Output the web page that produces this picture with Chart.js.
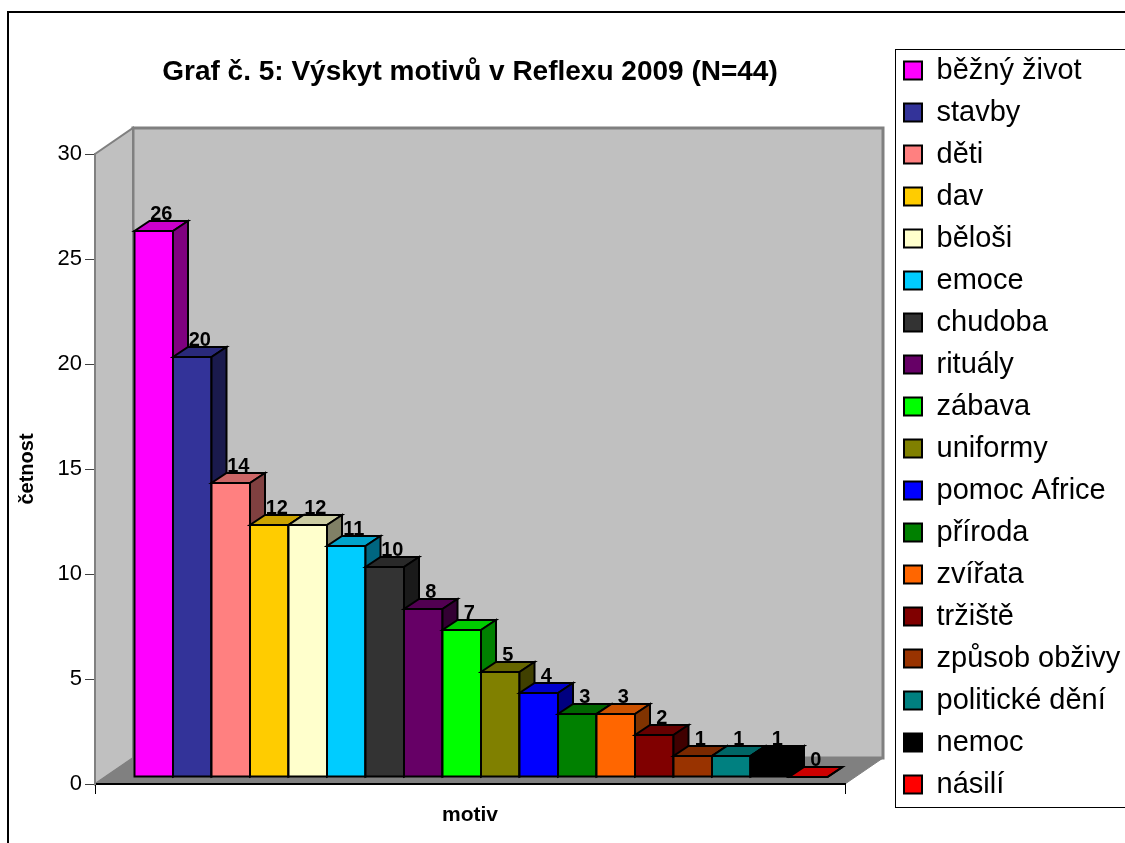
<!DOCTYPE html>
<html>
<head>
<meta charset="utf-8">
<script src="https://cdn.jsdelivr.net/npm/chart.js@4.4.1/dist/chart.umd.min.js"></script>
<style>html,body{margin:0;padding:0;background:#fff}</style>
</head>
<body>
<canvas id="graf" width="1125" height="843"></canvas>
<script>
// data
const motivy = ['běžný život', 'stavby', 'děti', 'dav', 'běloši', 'emoce', 'chudoba', 'rituály', 'zábava',
  'uniformy', 'pomoc Africe', 'příroda', 'zvířata', 'tržiště', 'způsob obživy', 'politické dění', 'nemoc', 'násilí'];
const cetnost = [26, 20, 14, 12, 12, 11, 10, 8, 7, 5, 4, 3, 3, 2, 1, 1, 1, 0];
const barvy = ['#FF00FF', '#333399', '#FF8080', '#FFCC00', '#FFFFCC', '#00CCFF', '#333333', '#660066', '#00FF00',
  '#808000', '#0000FF', '#008000', '#FF6600', '#800000', '#993300', '#008080', '#000000', '#FF0000'];
const osaY = [0, 5, 10, 15, 20, 25, 30];

const FONT = "Arial, 'Liberation Sans', sans-serif";

// ── 3D look (Excel style) ──
const DEPTH = { x: 38, y: -26 };   // floor / wall depth
const SHIFT = { x: 11, y: -7 };    // bar front plane
const BAR_D = { x: 15, y: -10 };   // bar depth

function shade(hex, f) {
  const n = parseInt(hex.slice(1), 16);
  const r = Math.round(((n >> 16) & 255) * f);
  const g = Math.round(((n >> 8) & 255) * f);
  const b = Math.round((n & 255) * f);
  return `rgb(${r},${g},${b})`;
}

function poly(ctx, pts, fill, stroke, lw) {
  ctx.beginPath();
  ctx.moveTo(pts[0][0], pts[0][1]);
  for (let i = 1; i < pts.length; i++) ctx.lineTo(pts[i][0], pts[i][1]);
  ctx.closePath();
  if (fill) { ctx.fillStyle = fill; ctx.fill(); }
  if (stroke) { ctx.strokeStyle = stroke; ctx.lineWidth = lw; ctx.stroke(); }
}

const plot3d = {
  id: 'plot3d',
  beforeDraw(chart) {
    const { ctx, chartArea: a, scales: { y } } = chart;
    const top = y.getPixelForValue(y.max), bot = y.getPixelForValue(0);
    const dx = DEPTH.x, dy = DEPTH.y;
    ctx.save();
    ctx.fillStyle = '#fff';
    ctx.fillRect(0, 0, chart.width, chart.height);
    ctx.strokeStyle = '#000';
    ctx.lineWidth = 2;
    ctx.strokeRect(8, 12, chart.width + 20, chart.height + 20);
    ctx.lineJoin = 'miter';
    // back wall
    poly(ctx, [[a.left + dx, top + dy], [a.right + dx, top + dy], [a.right + dx, bot + dy], [a.left + dx, bot + dy]], '#C0C0C0', '#808080', 3);
    // left wall
    poly(ctx, [[a.left, top], [a.left + dx, top + dy], [a.left + dx, bot + dy], [a.left, bot]], '#C0C0C0', '#808080', 2);
    // floor
    poly(ctx, [[a.left, bot], [a.right, bot], [a.right + dx, bot + dy], [a.left + dx, bot + dy]], '#808080', '#808080', 1);
    ctx.restore();
  },
  beforeDatasetDraw() {
    return false;
  },
  afterDatasetsDraw(chart) {
    const ctx = chart.ctx;
    const tops = [];
    ctx.save();
    ctx.lineJoin = 'miter';
    chart.data.datasets.forEach((ds, i) => {
      const meta = chart.getDatasetMeta(i);
      meta.data.forEach((el, j) => {
        const { x, y, base, width } = el.getProps(['x', 'y', 'base', 'width'], true);
        const xl = x - width / 2 + SHIFT.x, xr = x + width / 2 + SHIFT.x;
        const yt = y + SHIFT.y, yb = base + SHIFT.y;
        const col = ds.backgroundColor;
        poly(ctx, [[xl, yt], [xr, yt], [xr, yb], [xl, yb]], col, '#000', 2);
        poly(ctx, [[xl, yt], [xr, yt], [xr + BAR_D.x, yt + BAR_D.y], [xl + BAR_D.x, yt + BAR_D.y]], shade(col, 0.8), '#000', 2);
        poly(ctx, [[xr, yt], [xr + BAR_D.x, yt + BAR_D.y], [xr + BAR_D.x, yb + BAR_D.y], [xr, yb]], shade(col, 0.5), '#000', 2);
        tops.push({ x: (xl + xr) / 2 + BAR_D.x / 2, y: yt + BAR_D.y - 1, v: ds.data[j] });
      });
    });
    // value labels
    ctx.fillStyle = '#000';
    ctx.font = `bold 20px ${FONT}`;
    ctx.textAlign = 'center';
    ctx.textBaseline = 'alphabetic';
    tops.forEach(t => ctx.fillText(String(t.v), t.x, t.y));
    ctx.restore();
  },
  afterDraw(chart) {
    // legend frame
    const lg = chart.legend;
    const hb = lg.legendHitBoxes;
    if (!hb || !hb.length) return;
    const ctx = chart.ctx;
    const last = hb[hb.length - 1];
    ctx.save();
    ctx.strokeStyle = '#000';
    ctx.lineWidth = 1;
    const t = hb[0].top - 7.5, b = last.top + last.height + 7.5;
    ctx.strokeRect(lg.left + 4.5, Math.round(t) + 0.5, chart.width, Math.round(b - t));
    ctx.restore();
  }
};

new Chart(document.getElementById('graf'), {
  type: 'bar',
  data: {
    labels: [''],
    datasets: motivy.map((m, i) => ({
      label: m,
      data: [cetnost[i]],
      backgroundColor: barvy[i],
      borderColor: '#000',
      borderWidth: 2
    }))
  },
  options: {
    responsive: false,
    animation: false,
    layout: { padding: { top: 12, left: 0, right: 0, bottom: 0 } },
    datasets: { bar: { categoryPercentage: 0.924, barPercentage: 1 } },
    plugins: {
      title: {
        display: true,
        text: 'Graf č. 5: Výskyt motivů v Reflexu 2009 (N=44)',
        fullSize: false,
        color: '#000',
        font: { family: FONT, size: 28, weight: 'bold' },
        padding: { top: 43.2, bottom: 65.2 }
      },
      legend: {
        position: 'right',
        maxWidth: 234,
        labels: { color: '#000', font: { family: FONT, size: 29 }, boxWidth: 18, boxHeight: 18, padding: 13 }
      },
      tooltip: { enabled: false }
    },
    scales: {
      x: {
        grid: { display: true, drawOnChartArea: false, tickLength: 10, color: '#000', lineWidth: 1 },
        border: { color: '#000', width: 2 },
        ticks: { display: false },
        title: { display: true, text: 'motiv', color: '#000', font: { family: FONT, size: 21, weight: 'bold' }, padding: { top: 0, bottom: 15 } },
        afterFit: s => { s.height = 59; }
      },
      y: {
        min: osaY[0],
        max: osaY[osaY.length - 1],
        afterBuildTicks: s => { s.ticks = osaY.map(v => ({ value: v })); },
        grid: { display: true, drawOnChartArea: false, tickLength: 10, color: '#404040', lineWidth: 1 },
        border: { color: '#808080', width: 2 },
        ticks: { color: '#000', font: { family: FONT, size: 22 }, padding: 3 },
        title: { display: true, text: 'četnost', color: '#000', font: { family: FONT, size: 20, weight: 'bold' }, padding: { top: 15, bottom: 0 } },
        afterFit: s => { s.width = 95; }
      },
      gap: {
        type: 'linear',
        position: 'right',
        grid: { display: false },
        border: { display: false },
        ticks: { display: false },
        afterFit: s => { s.width = 46; }
      }
    }
  },
  plugins: [plot3d]
});
</script>
</body>
</html>
